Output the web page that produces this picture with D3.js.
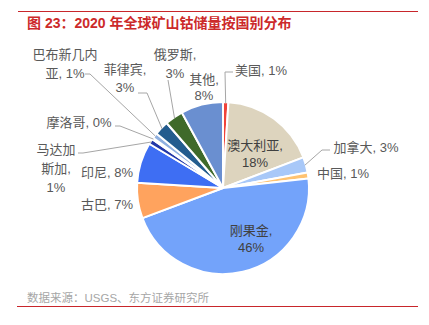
<!DOCTYPE html>
<html><head><meta charset="utf-8">
<script src="https://cdn.jsdelivr.net/npm/d3@7"></script>
<style>
html,body{margin:0;padding:0;background:#fff;}
svg{display:block;font-family:"Liberation Sans","Noto Sans CJK SC",sans-serif;}
</style></head>
<body>
<svg id="c" width="429" height="325"></svg>
<script>
// ---- data ----
const title = "图 23：2020 年全球矿山钴储量按国别分布";
const source = "数据来源：USGS、东方证券研究所";
const categories = ["美国","澳大利亚","加拿大","中国","刚果金","古巴","印尼","马达加斯加","摩洛哥","巴布新几内亚","菲律宾","俄罗斯","其他"];
const shares = [1.0,18.1,2.9,1.1,45.8,6.6,7.6,1.0,0.3,1.0,2.7,3.4,7.9];
const labelLines = [["美国, 1%"],["澳大利亚,","18%"],["加拿大, 3%"],["中国, 1%"],["刚果金,","46%"],["古巴, 7%"],["印尼, 8%"],["马达加","斯加,","1%"],["摩洛哥, 0%"],["巴布新几内","亚, 1%"],["菲律宾,","3%"],["俄罗斯,","3%"],["其他,","8%"]];

// ---- styles / layout ----
const colors = ["#F0433A","#DDD4BE","#A8C8F8","#FFC371","#73A3FA","#FFA35E","#3E6EF3","#2238A8","#D9A441","#8FB0E0","#235C8E","#3F6A2A","#6A8FD0"];
const cx = 223, cy = 188, R = 86;
// label layout: x, first line y, line step, optional leader elbow/end
const layout = {
  "美国":{x:261,y:70,dy:18,leader:[[225,72],[233,72]]},
  "澳大利亚":{x:255,y:145,dy:17,color:"#404040"},
  "加拿大":{x:366,y:147,dy:18,leader:[[322,150],[330,150]]},
  "中国":{x:343,y:173,dy:18},
  "刚果金":{x:251,y:230,dy:17,color:"#404040"},
  "古巴":{x:107,y:204,dy:18},
  "印尼":{x:107,y:172,dy:18},
  "马达加斯加":{x:56,y:149,dy:19,leader:[[83,153],[78,153]]},
  "摩洛哥":{x:79,y:122,dy:18,leader:[[120,126],[115,126]]},
  "巴布新几内亚":{x:65,y:54,dy:19,leader:[[90,74],[85,74]]},
  "菲律宾":{x:125,y:69,dy:18,leader:[[147,93],[138,93]]},
  "俄罗斯":{x:175,y:54,dy:19,leader:[[168,80]]},
  "其他":{x:204,y:79,dy:16}
};

const svg = d3.select("#c");
// rules
svg.append("line").attr("x1",18).attr("x2",418).attr("y1",11.5).attr("y2",11.5).attr("stroke","#C8262B").attr("stroke-width",1.2);
svg.append("line").attr("x1",17).attr("x2",418).attr("y1",306.5).attr("y2",306.5).attr("stroke","#C8262B").attr("stroke-width",1.2);
svg.append("text").attr("x",27).attr("y",22.5).attr("dominant-baseline","central")
  .attr("font-size",14).attr("font-weight","bold").attr("fill","#CC2A2A").text(title);
svg.append("text").attr("x",27).attr("y",298).attr("dominant-baseline","central")
  .attr("font-size",11.5).attr("fill","#A6A6A6").text(source);

const data = categories.map((c,i)=>({name:c,value:shares[i],lines:labelLines[i],color:colors[i]}));
const pie = d3.pie().sort(null).value(d=>d.value).startAngle(0).endAngle(2*Math.PI);
const arcs = pie(data);
const arc = d3.arc().innerRadius(0).outerRadius(R);

const g = svg.append("g").attr("transform",`translate(${cx},${cy})`);
g.selectAll("path.s").data(arcs).join("path").attr("class","s")
  .attr("d",arc).attr("fill",d=>d.data.color)
  .attr("stroke","#fff").attr("stroke-width",2).attr("stroke-linejoin","round");

// leaders
arcs.forEach(a=>{
  const L = layout[a.data.name];
  if(!L.leader) return;
  const mid = (a.startAngle+a.endAngle)/2;
  const p0 = [cx + (R-1)*Math.sin(mid), cy - (R-1)*Math.cos(mid)];
  const pts = [p0].concat(L.leader);
  svg.append("path").attr("d",d3.line()(pts)).attr("fill","none")
    .attr("stroke","#A6A6A6").attr("stroke-width",1);
});

// labels
arcs.forEach(a=>{
  const L = layout[a.data.name];
  const t = svg.append("text").attr("font-size",13).attr("fill",L.color||"#595959")
    .attr("text-anchor","middle");
  a.data.lines.forEach((s,i)=>{
    t.append("tspan").attr("x",L.x).attr("y",L.y+i*L.dy).attr("dominant-baseline","central").text(s);
  });
});
</script>
</body></html>
